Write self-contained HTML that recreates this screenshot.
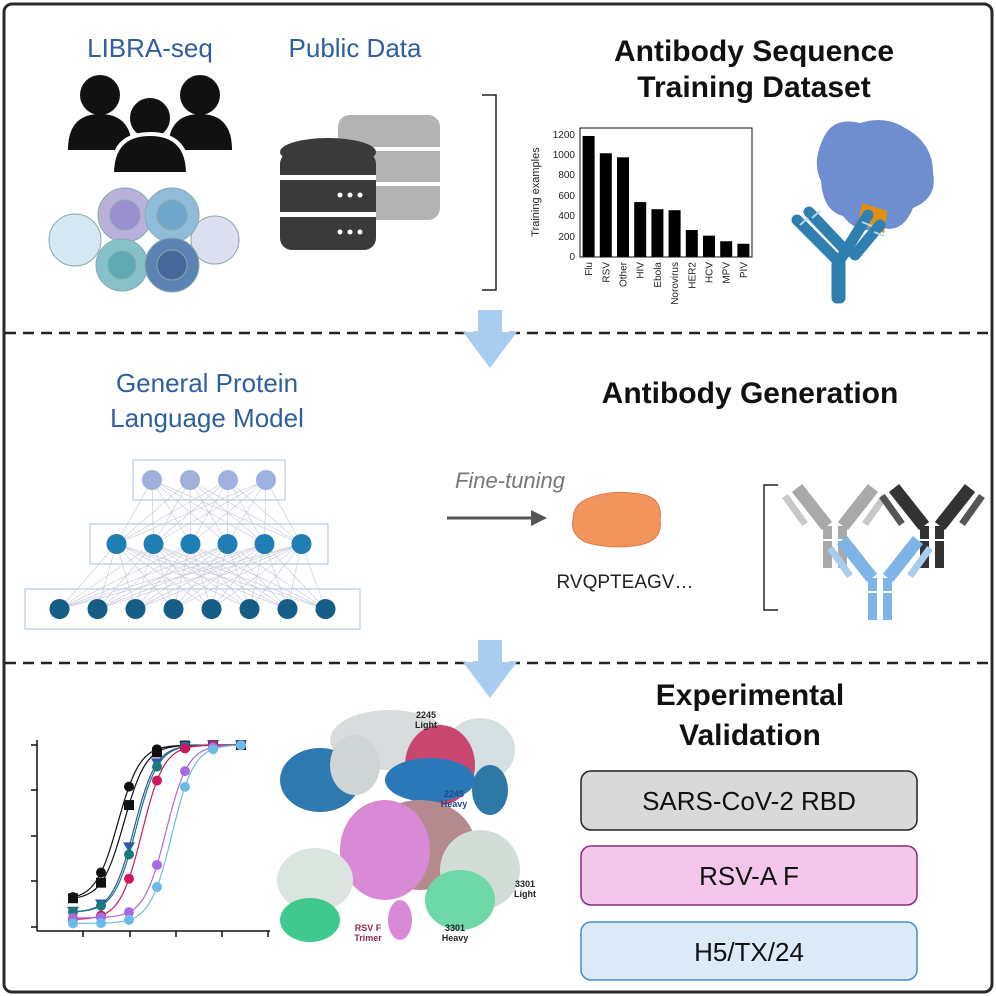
<!DOCTYPE html>
<html><head><meta charset="utf-8"><style>
html,body{margin:0;padding:0;background:#fff;}
svg{display:block;font-family:"Liberation Sans",sans-serif;}
</style></head><body>
<svg id="s" width="996" height="996" viewBox="0 0 996 996" xmlns="http://www.w3.org/2000/svg">
<rect x="4" y="4" width="988" height="988" rx="8" fill="#fff" stroke="#2b2b2b" stroke-width="3"/>
<line x1="5" y1="333" x2="991" y2="333" stroke="#222" stroke-width="2.5" stroke-dasharray="11,7"/>
<line x1="5" y1="663" x2="991" y2="663" stroke="#222" stroke-width="2.5" stroke-dasharray="11,7"/>

<!-- Section 1 -->
<text x="150" y="57" font-size="26" fill="#2e5f9e" text-anchor="middle">LIBRA-seq</text>
<text x="355" y="57" font-size="26" fill="#2e5f9e" text-anchor="middle">Public Data</text>
<text x="754" y="61" font-size="30" font-weight="bold" fill="#111" text-anchor="middle">Antibody Sequence</text>
<text x="754" y="97" font-size="30" font-weight="bold" fill="#111" text-anchor="middle">Training Dataset</text>
<!-- people -->
<g fill="#111">
<circle cx="100" cy="95" r="20"/><path d="M68 150 q0-36 32-36 q32 0 32 36z"/>
<circle cx="200" cy="95" r="20"/><path d="M168 150 q0-36 32-36 q32 0 32 36z"/>
<circle cx="150" cy="118" r="22" stroke="#fff" stroke-width="4"/><path d="M112 174 q0-40 38-40 q38 0 38 40z" stroke="#fff" stroke-width="4"/>
</g>
<!-- cells -->
<g stroke="#8aa" stroke-width="1">
<circle cx="75" cy="240" r="26" fill="#d6e6f2"/>
<circle cx="215" cy="240" r="24" fill="#dcdff0"/>
<circle cx="125" cy="215" r="27" fill="#b9b1dc"/>
<circle cx="172" cy="215" r="27" fill="#8fbcd8"/>
<circle cx="122" cy="265" r="26" fill="#86c0c8"/>
<circle cx="172" cy="265" r="27" fill="#5b83b4"/>
<circle cx="172" cy="265" r="15" fill="#46689a"/>
<circle cx="125" cy="215" r="15" fill="#9a8fd0"/>
<circle cx="172" cy="215" r="15" fill="#6fa6cc"/>
<circle cx="122" cy="265" r="14" fill="#5ea9b3"/>
</g>
<!-- databases -->
<g fill="#b3b3b3">
<rect x="338" y="115" width="102" height="105" rx="12"/>
</g>
<g fill="#fff"><rect x="338" y="147" width="102" height="4"/><rect x="338" y="182" width="102" height="4"/></g>
<g fill="#3a3a3a">
<ellipse cx="328" cy="152" rx="48" ry="14"/>
<rect x="280" y="152" width="96" height="98" rx="12"/>
</g>
<g fill="#fff"><rect x="280" y="175" width="96" height="5"/><rect x="280" y="212" width="96" height="5"/>
<circle cx="340" cy="195" r="2.5"/><circle cx="350" cy="195" r="2.5"/><circle cx="360" cy="195" r="2.5"/>
<circle cx="340" cy="232" r="2.5"/><circle cx="350" cy="232" r="2.5"/><circle cx="360" cy="232" r="2.5"/></g>
<path d="M482 95 h14 v195 h-14" fill="none" stroke="#222" stroke-width="1.5"/>
<!-- bar chart -->
<g id="bars"></g>
<rect x="580" y="128" width="172" height="129" fill="none" stroke="#111" stroke-width="1"/>
<text transform="translate(539 192) rotate(-90)" font-size="11" text-anchor="middle" fill="#222">Training examples</text>
<g font-size="10" fill="#222" text-anchor="end">
<text x="575" y="260">0</text><text x="575" y="240">200</text><text x="575" y="219">400</text><text x="575" y="199">600</text><text x="575" y="178">800</text><text x="575" y="158">1000</text><text x="575" y="138">1200</text>
</g>
<!-- protein + antibody -->
<path d="M825 135 q10-18 35-12 q25-8 45 5 q28 15 28 45 q5 25-20 35 q-10 25-30 20 q-25 8-40-12 q-20-5-22-35 q-10-20 4-46z" fill="#6f8ed0"/>
<path d="M862 203 l25 8 l-3 22 l-26-10z" fill="#e0900e"/>
<g stroke="#2f7fb0" stroke-width="11" stroke-linecap="round" fill="none">
<path d="M797 220 l40 40 v38"/><path d="M809 212 l38 40"/>
<path d="M868 215 l-28 45 v38"/><path d="M880 225 l-25 30"/>
</g>
<g stroke="#b5d6ee" stroke-width="2"><line x1="800" y1="225" x2="808" y2="218"/><line x1="812" y1="218" x2="820" y2="211"/><line x1="862" y1="222" x2="872" y2="226"/><line x1="874" y1="232" x2="884" y2="236"/></g>
<!-- arrows -->
<path d="M478 310 h24 v22 h15 l-27 36 l-27-36 h15z" fill="#a9cdf0"/>
<path d="M478 640 h24 v22 h15 l-27 36 l-27-36 h15z" fill="#a9cdf0"/>

<!-- Section 2 -->
<text x="207" y="392" font-size="26" fill="#2e5f9e" text-anchor="middle">General Protein</text>
<text x="207" y="427" font-size="26" fill="#2e5f9e" text-anchor="middle">Language Model</text>
<text x="750" y="403" font-size="30" font-weight="bold" fill="#111" text-anchor="middle">Antibody Generation</text>
<g id="nn"></g>
<text x="510" y="488" font-size="22" font-style="italic" fill="#777" text-anchor="middle">Fine-tuning</text>
<line x1="447" y1="518" x2="533" y2="518" stroke="#555" stroke-width="3"/>
<path d="M547 518 l-16-8 v16z" fill="#555"/>
<path d="M585 500 q25-12 60-5 q18 5 15 25 q3 20-20 25 q-30 5-55-3 q-15-8-12-22 q0-14 12-20z" fill="#f2945e" stroke="#e07a40"/>
<text x="625" y="588" font-size="19" fill="#222" text-anchor="middle">RVQPTEAGV…</text>
<path d="M778 485 h-14 v125 h14" fill="none" stroke="#222" stroke-width="1.5"/>
<g id="abs"></g>

<!-- Section 3 -->
<text x="750" y="705" font-size="30" font-weight="bold" fill="#111" text-anchor="middle">Experimental</text>
<text x="750" y="745" font-size="30" font-weight="bold" fill="#111" text-anchor="middle">Validation</text>
<rect x="581" y="771" width="336" height="59" rx="10" fill="#d9d9d9" stroke="#222" stroke-width="1.5"/>
<text x="749" y="810" font-size="26" fill="#111" text-anchor="middle">SARS-CoV-2 RBD</text>
<rect x="581" y="846" width="336" height="59" rx="10" fill="#f2c7ea" stroke="#8a2a80" stroke-width="1.5"/>
<text x="749" y="885" font-size="26" fill="#111" text-anchor="middle">RSV-A F</text>
<rect x="581" y="922" width="336" height="58" rx="10" fill="#dce9f7" stroke="#4a8bc8" stroke-width="1.5"/>
<text x="749" y="961" font-size="26" fill="#111" text-anchor="middle">H5/TX/24</text>
<!-- structure -->
<g>
<ellipse cx="390" cy="740" rx="60" ry="30" fill="#d8dcdc"/>
<ellipse cx="480" cy="750" rx="35" ry="32" fill="#d5e0e2"/>
<ellipse cx="440" cy="765" rx="35" ry="40" fill="#c94670"/>
<ellipse cx="490" cy="790" rx="18" ry="25" fill="#2d78a5"/>
<ellipse cx="320" cy="780" rx="40" ry="32" fill="#2e7ab0"/>
<ellipse cx="355" cy="765" rx="25" ry="30" fill="#cfd5d5"/>
<ellipse cx="430" cy="780" rx="45" ry="22" fill="#2a78b8"/>
<ellipse cx="420" cy="845" rx="55" ry="45" fill="#b58a8e"/>
<ellipse cx="385" cy="850" rx="45" ry="50" fill="#d98ad6"/>
<ellipse cx="400" cy="920" rx="12" ry="20" fill="#d98ad6"/>
<ellipse cx="315" cy="880" rx="38" ry="32" fill="#dbe5df"/>
<ellipse cx="310" cy="920" rx="30" ry="22" fill="#3fc98e"/>
<ellipse cx="480" cy="870" rx="40" ry="40" fill="#d2ddd7"/>
<ellipse cx="460" cy="900" rx="35" ry="30" fill="#6fd8a8"/>
</g>
<g font-size="9" font-weight="bold" fill="#222" text-anchor="middle">
<text x="426" y="718">2245</text><text x="426" y="728">Light</text>
<text x="454" y="797" fill="#1a4a8a">2245</text><text x="454" y="807" fill="#1a4a8a">Heavy</text>
<text x="525" y="887">3301</text><text x="525" y="897">Light</text>
<text x="455" y="931">3301</text><text x="455" y="941">Heavy</text>
<text x="368" y="931" fill="#8a2a50">RSV F</text><text x="368" y="941" fill="#8a2a50">Trimer</text>
</g>
<!-- dose response -->
<g stroke="#111" stroke-width="1.5">
<line x1="37" y1="740" x2="37" y2="931"/><line x1="37" y1="931" x2="270" y2="931"/>
<line x1="31" y1="745" x2="37" y2="745"/><line x1="31" y1="790" x2="37" y2="790"/><line x1="31" y1="836" x2="37" y2="836"/><line x1="31" y1="881" x2="37" y2="881"/><line x1="31" y1="927" x2="37" y2="927"/>
<line x1="83" y1="931" x2="83" y2="937"/><line x1="130" y1="931" x2="130" y2="937"/><line x1="176" y1="931" x2="176" y2="937"/><line x1="222" y1="931" x2="222" y2="937"/><line x1="268" y1="931" x2="268" y2="937"/>
</g>
<g id="dr"></g>
</svg>
<script>
var NS="http://www.w3.org/2000/svg";
function el(p,t,a){var e=document.createElementNS(NS,t);for(var k in a)e.setAttribute(k,a[k]);p.appendChild(e);return e;}
var vals=[1190,1020,980,540,470,460,265,210,155,130],names=["Flu","RSV","Other","HIV","Ebola","Norovirus","HER2","HCV","MPV","PIV"];
var B=document.getElementById("bars");
for(var i=0;i<10;i++){var cx=588.6+i*17.2,h=vals[i]*0.1017;
el(B,"rect",{x:cx-6,y:257-h,width:12,height:h,fill:"#000"});
var t=el(B,"text",{transform:"translate("+(cx+3.5)+" 262) rotate(-90)","font-size":"10","text-anchor":"end",fill:"#222"});t.textContent=names[i];}
var N=document.getElementById("nn");
var layers=[{y:480,n:4,x0:133,x1:285,c:"#9fb0dd",sp:38},{y:544,n:6,x0:90,x1:328,c:"#1f7fb5",sp:37},{y:609,n:8,x0:25,x1:360,c:"#135d86",sp:38}];
var pos=[];
layers.forEach(function(L){var w=(L.n-1)*L.sp,st=(L.x0+L.x1)/2-w/2,a=[];for(var i=0;i<L.n;i++)a.push(st+i*L.sp);pos.push(a);});
for(var l=0;l<2;l++)pos[l].forEach(function(x){pos[l+1].forEach(function(x2){el(N,"line",{x1:x,y1:layers[l].y,x2:x2,y2:layers[l+1].y,stroke:"#ccd","stroke-width":0.7});});});
layers.forEach(function(L,li){el(N,"rect",{x:L.x0,y:L.y-20,width:L.x1-L.x0,height:40,fill:"none",stroke:"#b8cce6","stroke-width":1.2});
pos[li].forEach(function(x){el(N,"circle",{cx:x,cy:L.y,r:10,fill:L.c});});});
var A=document.getElementById("abs");
function ab(cx,top,c,d){var g=el(A,"g",{});
el(g,"path",{d:"M"+(cx-38)+" "+top+" l30 38 M"+(cx+38)+" "+top+" l-30 38",stroke:c,"stroke-width":13,fill:"none"});
el(g,"rect",{x:cx-12,y:top+38,width:9,height:42,fill:c});el(g,"rect",{x:cx+3,y:top+38,width:9,height:42,fill:c});
el(g,"path",{d:"M"+(cx-50)+" "+(top+8)+" l20 28 M"+(cx+50)+" "+(top+8)+" l-20 28",stroke:d,"stroke-width":7,fill:"none"});
el(g,"line",{x1:cx-12,y1:top+52,x2:cx+12,y2:top+52,stroke:"#fff","stroke-width":2});}
ab(835,488,"#a9a9a9","#c8c8c8");ab(932,488,"#333","#555");ab(880,540,"#7fb4e6","#a8cdef");
var D=document.getElementById("dr");
var xs=[73,101,129,157,185,213,241];
var S=[["#111",118,0.15,"c"],["#111",124,0.15,"s"],["#2a55b0",134,0.08,"t"],["#1a7a7a",136,0.08,"c"],["#d0185e",142,0.04,"c"],["#a76ae0",166,0.05,"c"],["#6bbbe8",172,0.02,"c"]];
function Y(v){return 927-v*182;}
S.forEach(function(s){var f=function(x){return s[2]+(1-s[2])/(1+Math.exp(-(x-s[1])/11));};
var p="";for(var x=73;x<=245;x+=2)p+=(p?" L":"M")+x+" "+Y(f(x)).toFixed(1);
el(D,"path",{d:p,fill:"none",stroke:s[0],"stroke-width":1.2});
xs.forEach(function(x){var y=Y(f(x));if(s[3]=="s")el(D,"rect",{x:x-5,y:y-5,width:10,height:10,fill:s[0]});
else if(s[3]=="t")el(D,"path",{d:"M"+(x-6)+" "+(y-5)+" h12 l-6 10z",fill:s[0]});
else el(D,"circle",{cx:x,cy:y,r:5,fill:s[0]});});});
</script>
</body></html>
